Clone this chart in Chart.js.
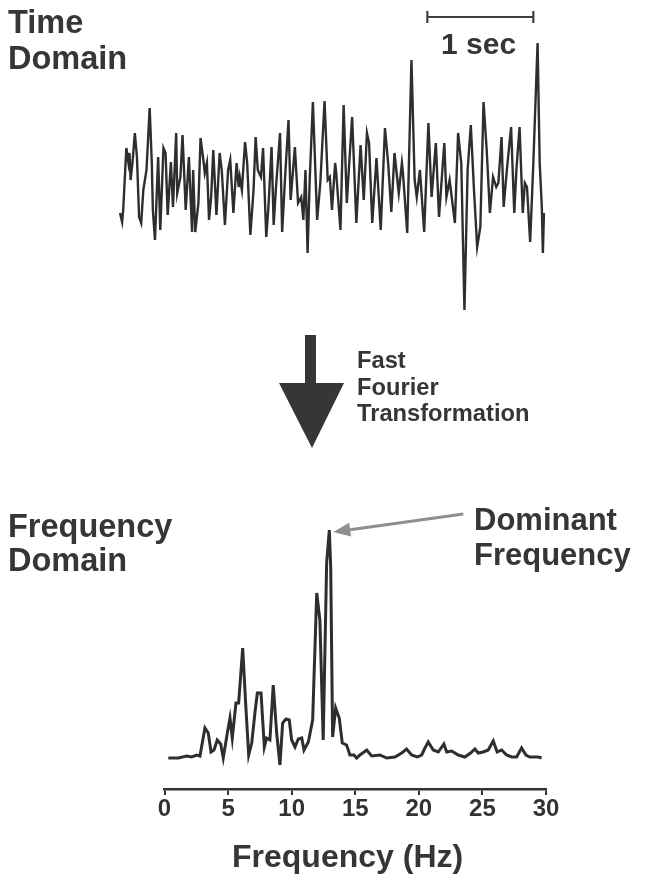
<!DOCTYPE html>
<html>
<head>
<meta charset="utf-8">
<script src="https://cdn.jsdelivr.net/npm/chart.js@4.4.0/dist/chart.umd.min.js"></script>
<style>
  html, body { margin: 0; padding: 0; background: #fff; }
  body { width: 647px; height: 877px; position: relative; overflow: hidden;
         font-family: "Liberation Sans", Arial, sans-serif; color: #363636; }
  canvas { position: absolute; left: 0; }
  #timeChart { top: 0; }
  #freqChart { top: 480px; }
  .lbl { position: absolute; font-weight: bold; white-space: nowrap; }
  #bigArrow { position: absolute; left: 0; top: 0; }
</style>
</head>
<body>
<canvas id="timeChart" width="647" height="330"></canvas>
<canvas id="freqChart" width="647" height="397"></canvas>

<svg id="bigArrow" width="647" height="877">
  <polygon points="305,335 316,335 316,383 344,383 312,448 279,383 305,383" fill="#363636"/>
</svg>

<div class="lbl" style="left:8px; top:4px; font-size:32.5px; line-height:36px;">Time<br>Domain</div>
<div class="lbl" style="left:441px; top:29px; font-size:30px; line-height:30px;">1 sec</div>
<div class="lbl" style="left:357px; top:347px; font-size:23.7px; line-height:26.7px;">Fast<br>Fourier<br>Transformation</div>
<div class="lbl" style="left:8px; top:509px; font-size:32.5px; line-height:34px;">Frequency<br>Domain</div>
<div class="lbl" style="left:474px; top:502px; font-size:31px; line-height:35px;">Dominant<br>Frequency</div>
<div class="lbl" style="left:232px; top:839px; font-size:32px; line-height:34px;">Frequency (Hz)</div>

<script>
// signal temporel (s, unités arbitraires)
const timeSec = [
  0.00, 0.02, 0.03, 0.06, 0.08, 0.09, 0.10, 0.12, 0.14, 0.16, 0.18, 0.20, 0.22, 0.25, 0.28, 0.30,
  0.31, 0.33, 0.36, 0.38, 0.41, 0.43, 0.45, 0.48, 0.50, 0.53, 0.54, 0.57, 0.59, 0.62, 0.65, 0.68,
  0.69, 0.71, 0.74, 0.76, 0.79, 0.80, 0.82, 0.84, 0.86, 0.88, 0.91, 0.94, 0.96, 0.99, 1.02, 1.04,
  1.07, 1.10, 1.12, 1.13, 1.15, 1.18, 1.20, 1.23, 1.26, 1.28, 1.30, 1.33, 1.35, 1.38, 1.40, 1.43,
  1.45, 1.47, 1.51, 1.53, 1.56, 1.59, 1.61, 1.65, 1.68, 1.71, 1.73, 1.75, 1.77, 1.79, 1.82, 1.86,
  1.89, 1.93, 1.96, 1.98, 2.00, 2.03, 2.04, 2.08, 2.11, 2.14, 2.19, 2.23, 2.27, 2.30, 2.33, 2.35,
  2.38, 2.42, 2.46, 2.50, 2.53, 2.56, 2.59, 2.63, 2.66, 2.67, 2.71, 2.75, 2.78, 2.80, 2.83, 2.87,
  2.91, 2.94, 2.98, 3.01, 3.06, 3.08, 3.11, 3.16, 3.19, 3.22, 3.25, 3.28, 3.31, 3.34, 3.37, 3.40,
  3.43, 3.46, 3.49, 3.52, 3.55, 3.57, 3.60, 3.62, 3.65, 3.69, 3.72, 3.74, 3.77, 3.80, 3.82, 3.84,
  3.87, 3.90, 3.94, 3.96, 3.98, 3.99, 4.00
];
const timeAmp = [
  -13, -22, -10, 52, 37, 47, 20, 40, 67, 43, -17, -23, 10, 30, 92, 37,
  -10, -40, 43, -30, 52, 47, -15, 38, -7, 67, 7, 23, 65, -10, 43, -32,
  30, -32, -3, 62, 37, 27, 37, -20, 3, 50, -15, 47, 30, -25, 30, 40,
  -13, 37, 13, 23, 10, 58, 37, -35, 10, 63, 30, 23, 52, -37, -8, 53,
  -25, 10, 67, -32, 27, 80, 0, 53, -3, 3, -20, 30, -53, 20, 98, -20,
  17, 99, 20, 23, -10, 37, 27, -30, 95, -3, 83, -23, 55, 0, 67, 57,
  -23, 42, -30, 72, 37, -12, 47, 7, 37, 27, -33, 140, 20, 3, 30, -32,
  77, 3, 57, -17, 57, 3, 20, -23, 67, 37, -110, 30, 75, 10, -47, -27,
  98, 50, -13, 23, 13, 17, 63, -7, 30, 73, -13, 30, 73, -13, 17, 13,
  -42, 37, 157, 37, -7, -53, -13
];

// spectre (Hz, unités arbitraires)
const freqHz = [
  0.30, 1.08, 1.75, 2.14, 2.53, 2.79, 3.18, 3.44, 3.66, 3.89, 4.15, 4.42, 4.62, 4.94, 5.15, 5.33,
  5.62, 5.83, 6.15, 6.38, 6.62, 6.86, 7.11, 7.30, 7.59, 7.85, 8.03, 8.29, 8.55, 8.82, 9.08, 9.29,
  9.55, 9.81, 10.00, 10.26, 10.52, 10.79, 10.97, 11.31, 11.65, 11.97, 12.22, 12.48, 12.75, 12.96,
  13.07, 13.22, 13.46, 13.74, 13.98, 14.32, 14.58, 14.90, 15.11, 15.37, 15.90, 16.29, 16.94, 17.47,
  18.12, 18.65, 19.04, 19.43, 19.87, 20.22, 20.48, 20.74, 21.13, 21.53, 21.97, 22.19, 22.58, 23.10,
  23.62, 24.07, 24.41, 24.67, 25.06, 25.46, 25.85, 26.16, 26.51, 26.90, 27.30, 27.69, 28.08, 28.42,
  28.73, 29.13, 29.39, 29.65
];
const freqPower = [
  2, 2, 4, 3, 5, 4, 32, 27, 8, 10, 20, 16, 2, 27, 42, 22,
  57, 57, 112, 57, 5, 17, 47, 67, 67, 13, 22, 20, 75, 27, -5, 37,
  41, 40, 20, 13, 21, 22, 10, 18, 40, 167, 140, 20, 197, 230,
  193, 23, 52, 42, 17, 15, 5, 5, 2, 5, 10, 4, 5, 2,
  3, 7, 11, 5, 3, 5, 12, 18, 10, 8, 16, 8, 9, 5,
  3, 7, 11, 7, 8, 10, 19, 8, 10, 5, 3, 3, 12, 5,
  3, 3, 3, 2
];

const freqTicks = [0, 5, 10, 15, 20, 25, 30];
const scaleBarStart = 2.9; // début de la barre "1 sec"

const ink = '#2e2e2e';

function toPoints(xs, ys) {
  return xs.map((x, i) => ({ x: x, y: ys[i] }));
}

// barre d'échelle au-dessus du signal
const scaleBarPlugin = {
  id: 'scaleBar',
  afterDraw(chart) {
    const ctx = chart.ctx;
    const xs = chart.scales.x;
    const x0 = xs.getPixelForValue(scaleBarStart);
    const x1 = xs.getPixelForValue(scaleBarStart + 1);
    ctx.save();
    ctx.strokeStyle = '#404040';
    ctx.lineWidth = 2.2;
    ctx.beginPath();
    ctx.moveTo(x0, 17); ctx.lineTo(x1, 17);
    ctx.moveTo(x0, 11); ctx.lineTo(x0, 23);
    ctx.moveTo(x1, 11); ctx.lineTo(x1, 23);
    ctx.stroke();
    ctx.restore();
  }
};

// flèche grise vers le pic dominant
const peakArrowPlugin = {
  id: 'peakArrow',
  afterDraw(chart) {
    const ctx = chart.ctx;
    let k = 0;
    freqPower.forEach((v, i) => { if (v > freqPower[k]) k = i; });
    const px = chart.scales.x.getPixelForValue(freqHz[k]) + 4;
    const py = chart.scales.y.getPixelForValue(freqPower[k]) + 2;
    const tx = px + 130, ty = py - 18;
    const ang = Math.atan2(ty - py, tx - px);
    const len = 17, half = 7;
    const bx = px + Math.cos(ang) * len, by = py + Math.sin(ang) * len;
    ctx.save();
    ctx.strokeStyle = '#8e8e8e';
    ctx.fillStyle = '#8e8e8e';
    ctx.lineWidth = 3;
    ctx.beginPath();
    ctx.moveTo(tx, ty); ctx.lineTo(bx, by);
    ctx.stroke();
    ctx.beginPath();
    ctx.moveTo(px, py);
    ctx.lineTo(bx - Math.sin(ang) * half, by + Math.cos(ang) * half);
    ctx.lineTo(bx + Math.sin(ang) * half, by - Math.cos(ang) * half);
    ctx.closePath();
    ctx.fill();
    ctx.restore();
  }
};

new Chart(document.getElementById('timeChart'), {
  type: 'line',
  data: {
    datasets: [{
      data: toPoints(timeSec, timeAmp),
      borderColor: ink,
      borderWidth: 2.4,
      pointRadius: 0,
      tension: 0,
      clip: false
    }]
  },
  options: {
    responsive: false,
    animation: false,
    layout: { padding: { left: 120, right: 102, top: 40, bottom: 15 } },
    scales: {
      x: { type: 'linear', min: 0, max: 4.01, display: false },
      y: { min: -115, max: 160, display: false }
    },
    plugins: { legend: { display: false }, tooltip: { enabled: false } }
  },
  plugins: [scaleBarPlugin]
});

new Chart(document.getElementById('freqChart'), {
  type: 'line',
  data: {
    datasets: [{
      data: toPoints(freqHz, freqPower),
      borderColor: ink,
      borderWidth: 3,
      pointRadius: 0,
      tension: 0,
      clip: false
    }]
  },
  options: {
    responsive: false,
    animation: false,
    layout: { padding: { left: 164.5, right: 101, top: 20, bottom: 0 } },
    scales: {
      x: {
        type: 'linear',
        min: 0,
        max: 30,
        afterBuildTicks: (s) => { s.ticks = freqTicks.map(v => ({ value: v })); },
        afterFit: (s) => { s.height = 88; },
        border: { display: true, color: '#333', width: 2.5 },
        grid: { drawOnChartArea: false, drawTicks: true, tickLength: 6, color: '#333', lineWidth: 2 },
        ticks: {
          color: '#333',
          padding: 0,
          font: { family: '"Liberation Sans", Arial, sans-serif', size: 24, weight: 'bold' }
        }
      },
      y: { min: -29, max: 260, display: false }
    },
    plugins: { legend: { display: false }, tooltip: { enabled: false } }
  },
  plugins: [peakArrowPlugin]
});
</script>
</body>
</html>
